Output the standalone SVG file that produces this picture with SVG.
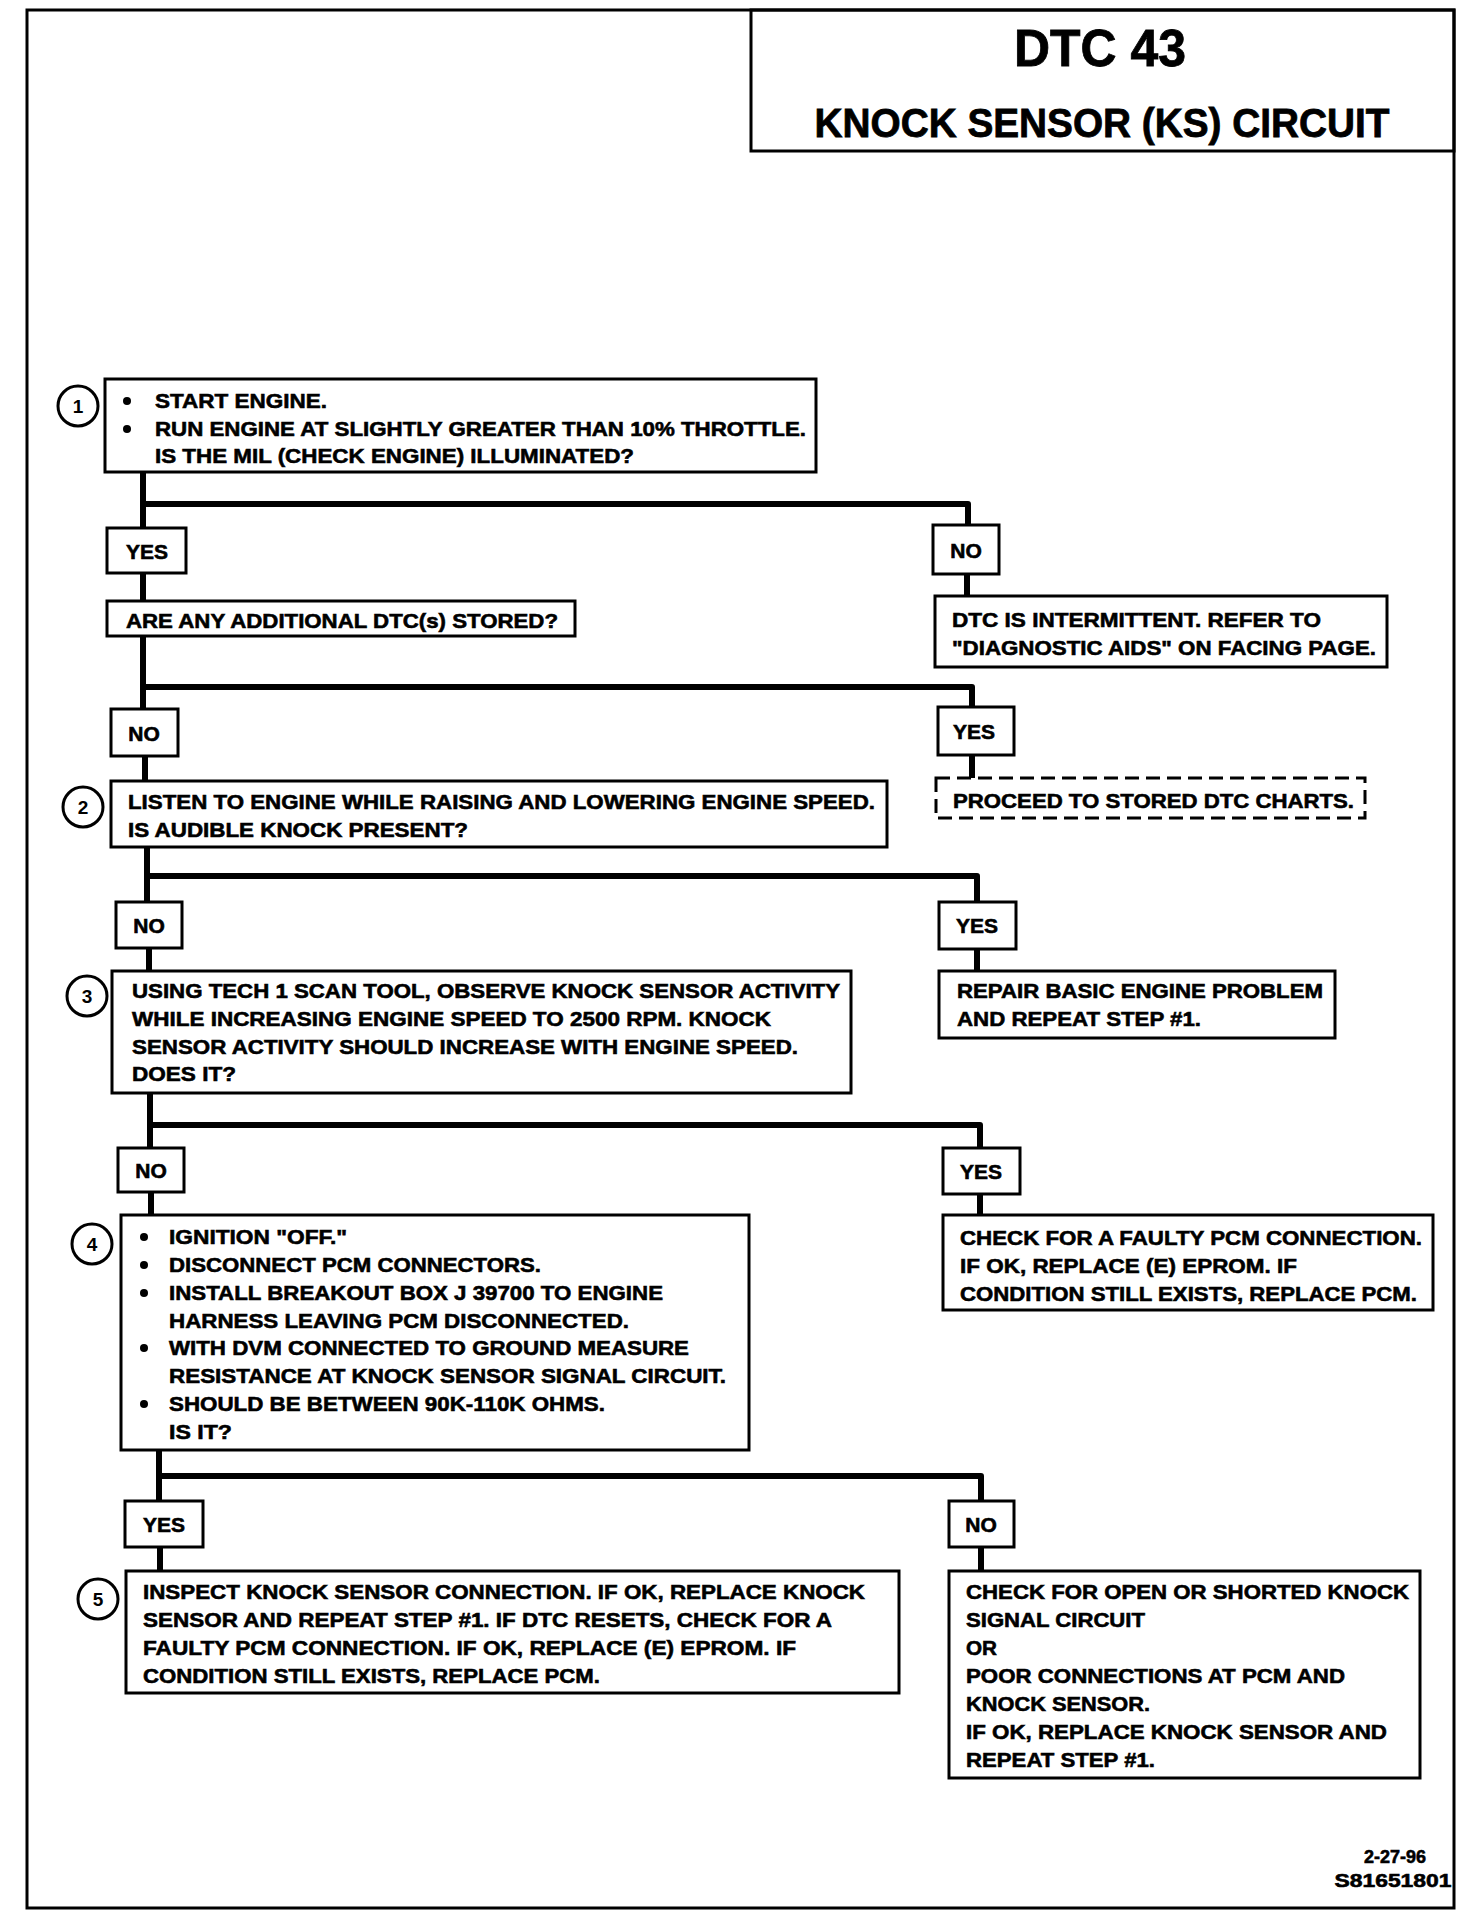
<svg xmlns="http://www.w3.org/2000/svg" width="1472" height="1916" viewBox="0 0 1472 1916">
<style>
  .frame { fill: none; stroke: #000; stroke-width: 3; }
  .box { fill: #fff; stroke: #000; stroke-width: 3; }
  .dash { fill: #fff; stroke: #000; stroke-width: 3; stroke-dasharray: 14 7; }
  .num { fill: #fff; stroke: #000; stroke-width: 3; }
  .t { font-family: "Liberation Sans", Arial, sans-serif; font-weight: bold; font-size: 21px; fill: #000; stroke: #000; stroke-width: 0.6; }
  .lbl { font-family: "Liberation Sans", Arial, sans-serif; font-weight: bold; font-size: 21px; fill: #000; stroke: #000; stroke-width: 0.6; text-anchor: middle; }
  .n { font-family: "Liberation Sans", Arial, sans-serif; font-weight: bold; font-size: 19px; fill: #000; text-anchor: middle; }
  .title { font-family: "Liberation Sans", Arial, sans-serif; font-weight: bold; fill: #000; stroke: #000; stroke-width: 0.8; text-anchor: middle; }
  .foot { font-family: "Liberation Sans", Arial, sans-serif; font-weight: bold; font-size: 19px; fill: #000; stroke: #000; stroke-width: 0.6; text-anchor: middle; }
  .bul { fill: #000; }
  .wire { fill: none; stroke: #000; stroke-width: 6; stroke-linejoin: round; stroke-linecap: butt; }
</style>
<defs>
  <circle id="dot" class="bul" r="4"/>
</defs>

<rect class="frame" x="27" y="10" width="1427" height="1898"/>

<g id="title">
  <rect class="frame" x="751" y="10" width="703" height="141"/>
  <text class="title" x="1100" y="66" font-size="52" textLength="172" lengthAdjust="spacingAndGlyphs">DTC 43</text>
  <text class="title" x="1102" y="137" font-size="41" textLength="575" lengthAdjust="spacingAndGlyphs">KNOCK SENSOR (KS) CIRCUIT</text>
</g>

<g id="connectors">
  <path class="wire" d="M143 472 V528"/>
  <path class="wire" d="M143 504 H968 V525"/>
  <path class="wire" d="M143 573 V601"/>
  <path class="wire" d="M967 574 V596"/>
  <path class="wire" d="M143 636 V709"/>
  <path class="wire" d="M143 687 H972 V707"/>
  <path class="wire" d="M145 756 V781"/>
  <path class="wire" d="M972 755 V778"/>
  <path class="wire" d="M147 847 V902"/>
  <path class="wire" d="M147 876 H977 V902"/>
  <path class="wire" d="M149 948 V971"/>
  <path class="wire" d="M977 949 V971"/>
  <path class="wire" d="M150 1093 V1148"/>
  <path class="wire" d="M150 1125 H980 V1148"/>
  <path class="wire" d="M151 1192 V1215"/>
  <path class="wire" d="M980 1194 V1215"/>
  <path class="wire" d="M159 1450 V1501"/>
  <path class="wire" d="M159 1476 H981 V1501"/>
  <path class="wire" d="M160 1547 V1571"/>
  <path class="wire" d="M981 1547 V1571"/>
</g>

<g id="step1">
  <circle class="num" cx="78" cy="406" r="20"/>
  <text class="n" x="78" y="413">1</text>
  <rect class="box" x="105" y="379" width="711" height="93"/>
  <use href="#dot" x="127" y="401"/>
  <text class="t" x="155" y="408" textLength="172" lengthAdjust="spacingAndGlyphs">START ENGINE.</text>
  <use href="#dot" x="127" y="429"/>
  <text class="t" x="155" y="436" textLength="651" lengthAdjust="spacingAndGlyphs">RUN ENGINE AT SLIGHTLY GREATER THAN 10% THROTTLE.</text>
  <text class="t" x="155" y="463" textLength="479" lengthAdjust="spacingAndGlyphs">IS THE MIL (CHECK ENGINE) ILLUMINATED?</text>
</g>

<g id="yes1">
  <rect class="box" x="107" y="528" width="79" height="45"/>
  <text class="lbl" x="147" y="559">YES</text>
</g>
<g id="no1">
  <rect class="box" x="933" y="525" width="66" height="49"/>
  <text class="lbl" x="966" y="558">NO</text>
</g>

<g id="additional-dtc">
  <rect class="box" x="107" y="601" width="468" height="35"/>
  <text class="t" x="126" y="628" textLength="432" lengthAdjust="spacingAndGlyphs">ARE ANY ADDITIONAL DTC(s) STORED?</text>
</g>

<g id="intermittent">
  <rect class="box" x="935" y="596" width="452" height="71"/>
  <text class="t" x="952" y="627" textLength="369" lengthAdjust="spacingAndGlyphs">DTC IS INTERMITTENT.  REFER TO</text>
  <text class="t" x="952" y="655" textLength="424" lengthAdjust="spacingAndGlyphs">"DIAGNOSTIC AIDS" ON FACING PAGE.</text>
</g>

<g id="no2">
  <rect class="box" x="111" y="709" width="67" height="47"/>
  <text class="lbl" x="144" y="741">NO</text>
</g>
<g id="yes2">
  <rect class="box" x="938" y="707" width="76" height="48"/>
  <text class="lbl" x="974" y="739">YES</text>
</g>

<g id="stored-charts">
  <rect class="dash" x="936" y="778" width="429" height="40"/>
  <text class="t" x="953" y="808" textLength="401" lengthAdjust="spacingAndGlyphs">PROCEED TO STORED DTC CHARTS.</text>
</g>

<g id="step2">
  <circle class="num" cx="83" cy="807" r="20"/>
  <text class="n" x="83" y="814">2</text>
  <rect class="box" x="111" y="781" width="776" height="66"/>
  <text class="t" x="128" y="809" textLength="747" lengthAdjust="spacingAndGlyphs">LISTEN TO ENGINE WHILE RAISING AND LOWERING ENGINE SPEED.</text>
  <text class="t" x="128" y="837" textLength="340" lengthAdjust="spacingAndGlyphs">IS AUDIBLE KNOCK PRESENT?</text>
</g>

<g id="no3">
  <rect class="box" x="116" y="902" width="66" height="46"/>
  <text class="lbl" x="149" y="933">NO</text>
</g>
<g id="yes3">
  <rect class="box" x="939" y="902" width="77" height="47"/>
  <text class="lbl" x="977" y="933">YES</text>
</g>

<g id="step3">
  <circle class="num" cx="87" cy="996" r="20"/>
  <text class="n" x="87" y="1003">3</text>
  <rect class="box" x="112" y="971" width="739" height="122"/>
  <text class="t" x="132" y="998" textLength="708" lengthAdjust="spacingAndGlyphs">USING TECH 1 SCAN TOOL, OBSERVE KNOCK SENSOR ACTIVITY</text>
  <text class="t" x="132" y="1026" textLength="639" lengthAdjust="spacingAndGlyphs">WHILE INCREASING ENGINE SPEED TO 2500 RPM.  KNOCK</text>
  <text class="t" x="132" y="1054" textLength="666" lengthAdjust="spacingAndGlyphs">SENSOR ACTIVITY SHOULD INCREASE WITH ENGINE SPEED.</text>
  <text class="t" x="132" y="1081" textLength="104" lengthAdjust="spacingAndGlyphs">DOES IT?</text>
</g>

<g id="repair">
  <rect class="box" x="939" y="971" width="396" height="67"/>
  <text class="t" x="957" y="998" textLength="366" lengthAdjust="spacingAndGlyphs">REPAIR BASIC ENGINE PROBLEM</text>
  <text class="t" x="957" y="1026" textLength="244" lengthAdjust="spacingAndGlyphs">AND REPEAT STEP #1.</text>
</g>

<g id="no4">
  <rect class="box" x="118" y="1148" width="66" height="44"/>
  <text class="lbl" x="151" y="1178">NO</text>
</g>
<g id="yes4">
  <rect class="box" x="943" y="1148" width="77" height="46"/>
  <text class="lbl" x="981" y="1179">YES</text>
</g>

<g id="faulty-pcm">
  <rect class="box" x="943" y="1215" width="490" height="95"/>
  <text class="t" x="960" y="1245" textLength="462" lengthAdjust="spacingAndGlyphs">CHECK FOR A FAULTY PCM CONNECTION.</text>
  <text class="t" x="960" y="1273" textLength="337" lengthAdjust="spacingAndGlyphs">IF OK, REPLACE (E) EPROM.  IF</text>
  <text class="t" x="960" y="1301" textLength="457" lengthAdjust="spacingAndGlyphs">CONDITION STILL EXISTS, REPLACE PCM.</text>
</g>

<g id="step4">
  <circle class="num" cx="92" cy="1244" r="20"/>
  <text class="n" x="92" y="1251">4</text>
  <rect class="box" x="121" y="1215" width="628" height="235"/>
  <use href="#dot" x="144" y="1237"/>
  <text class="t" x="169" y="1244" textLength="178" lengthAdjust="spacingAndGlyphs">IGNITION "OFF."</text>
  <use href="#dot" x="144" y="1265"/>
  <text class="t" x="169" y="1272" textLength="372" lengthAdjust="spacingAndGlyphs">DISCONNECT PCM CONNECTORS.</text>
  <use href="#dot" x="144" y="1293"/>
  <text class="t" x="169" y="1300" textLength="494" lengthAdjust="spacingAndGlyphs">INSTALL BREAKOUT BOX J 39700 TO ENGINE</text>
  <text class="t" x="169" y="1328" textLength="460" lengthAdjust="spacingAndGlyphs">HARNESS LEAVING PCM DISCONNECTED.</text>
  <use href="#dot" x="144" y="1348"/>
  <text class="t" x="169" y="1355" textLength="520" lengthAdjust="spacingAndGlyphs">WITH DVM CONNECTED TO GROUND MEASURE</text>
  <text class="t" x="169" y="1383" textLength="557" lengthAdjust="spacingAndGlyphs">RESISTANCE AT KNOCK SENSOR SIGNAL CIRCUIT.</text>
  <use href="#dot" x="144" y="1404"/>
  <text class="t" x="169" y="1411" textLength="436" lengthAdjust="spacingAndGlyphs">SHOULD BE BETWEEN 90K-110K OHMS.</text>
  <text class="t" x="169" y="1439" textLength="63" lengthAdjust="spacingAndGlyphs">IS IT?</text>
</g>

<g id="yes5">
  <rect class="box" x="125" y="1501" width="78" height="46"/>
  <text class="lbl" x="164" y="1532">YES</text>
</g>
<g id="no5">
  <rect class="box" x="949" y="1501" width="65" height="46"/>
  <text class="lbl" x="981" y="1532">NO</text>
</g>

<g id="step5">
  <circle class="num" cx="98" cy="1599" r="20"/>
  <text class="n" x="98" y="1606">5</text>
  <rect class="box" x="126" y="1571" width="773" height="122"/>
  <text class="t" x="143" y="1599" textLength="722" lengthAdjust="spacingAndGlyphs">INSPECT KNOCK SENSOR CONNECTION.  IF OK, REPLACE KNOCK</text>
  <text class="t" x="143" y="1627" textLength="689" lengthAdjust="spacingAndGlyphs">SENSOR AND REPEAT STEP #1.  IF DTC RESETS, CHECK FOR A</text>
  <text class="t" x="143" y="1655" textLength="653" lengthAdjust="spacingAndGlyphs">FAULTY PCM CONNECTION.  IF OK, REPLACE (E) EPROM.  IF</text>
  <text class="t" x="143" y="1683" textLength="457" lengthAdjust="spacingAndGlyphs">CONDITION STILL EXISTS, REPLACE PCM.</text>
</g>

<g id="open-shorted">
  <rect class="box" x="949" y="1571" width="471" height="207"/>
  <text class="t" x="966" y="1599" textLength="443" lengthAdjust="spacingAndGlyphs">CHECK FOR OPEN OR SHORTED KNOCK</text>
  <text class="t" x="966" y="1627" textLength="179" lengthAdjust="spacingAndGlyphs">SIGNAL CIRCUIT</text>
  <text class="t" x="966" y="1655" textLength="31" lengthAdjust="spacingAndGlyphs">OR</text>
  <text class="t" x="966" y="1683" textLength="379" lengthAdjust="spacingAndGlyphs">POOR CONNECTIONS AT PCM AND</text>
  <text class="t" x="966" y="1711" textLength="184" lengthAdjust="spacingAndGlyphs">KNOCK SENSOR.</text>
  <text class="t" x="966" y="1739" textLength="421" lengthAdjust="spacingAndGlyphs">IF OK, REPLACE KNOCK SENSOR AND</text>
  <text class="t" x="966" y="1767" textLength="189" lengthAdjust="spacingAndGlyphs">REPEAT STEP #1.</text>
</g>

<g id="footer">
  <text class="foot" x="1395" y="1863" textLength="62" lengthAdjust="spacingAndGlyphs">2-27-96</text>
  <text class="foot" x="1393" y="1887" textLength="117" lengthAdjust="spacingAndGlyphs">S81651801</text>
</g>
</svg>
